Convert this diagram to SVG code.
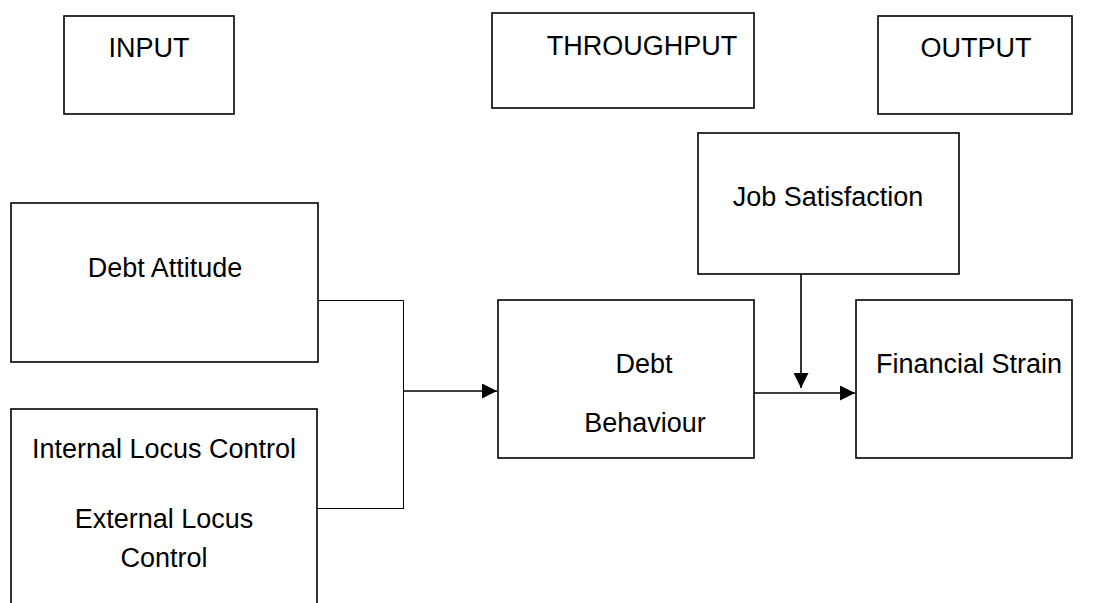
<svg xmlns="http://www.w3.org/2000/svg" width="1110" height="603" viewBox="0 0 1110 603">
<style>
.box{fill:#fff;stroke:#000;stroke-width:1.6}
.lbl{font-family:"Liberation Sans",Arial,sans-serif;font-size:27px;fill:#000;text-anchor:middle}
.thin{fill:none;stroke:#000;stroke-width:1}
.arr{fill:none;stroke:#000;stroke-width:1.6}
</style>
<defs>
<marker id="ah" markerWidth="15" markerHeight="15" refX="15" refY="7.5" orient="auto" markerUnits="userSpaceOnUse">
<path d="M0,0 L15,7.5 L0,15 Z" fill="#000"/>
</marker>
</defs>
<rect width="1110" height="603" fill="#fff"/>
<g id="input"><rect class="box" x="64" y="16" width="170" height="98"/><text class="lbl" x="149" y="57">INPUT</text></g>
<g id="throughput"><rect class="box" x="492" y="13" width="262" height="95"/><text class="lbl" x="642" y="55">THROUGHPUT</text></g>
<g id="output"><rect class="box" x="878" y="16" width="194" height="98"/><text class="lbl" x="976" y="57">OUTPUT</text></g>
<g id="job-satisfaction"><rect class="box" x="698" y="133" width="261" height="141"/><text class="lbl" x="828" y="206">Job Satisfaction</text></g>
<g id="debt-attitude"><rect class="box" x="11" y="203" width="307" height="159"/><text class="lbl" x="165" y="277">Debt Attitude</text></g>
<g id="locus-control"><rect class="box" x="11" y="409" width="306" height="210"/><text class="lbl" x="164" y="458">Internal Locus Control</text><text class="lbl" x="164" y="528">External Locus</text><text class="lbl" x="164" y="567">Control</text></g>
<g id="debt-behaviour"><rect class="box" x="498" y="300" width="256" height="158"/><text class="lbl" x="644" y="373">Debt</text><text class="lbl" x="645" y="432">Behaviour</text></g>
<g id="financial-strain"><rect class="box" x="856" y="300" width="216" height="158"/><text class="lbl" x="969" y="373">Financial Strain</text></g>
<g id="connectors">
<path class="thin" d="M318,300.5 H403.5 V509 M317,508.5 H403.5"/>
<path class="arr" d="M403,391 H497" marker-end="url(#ah)"/>
<path class="arr" d="M754,393 H855" marker-end="url(#ah)"/>
<path class="arr" d="M801,274 V388" marker-end="url(#ah)"/>
</g>
</svg>
